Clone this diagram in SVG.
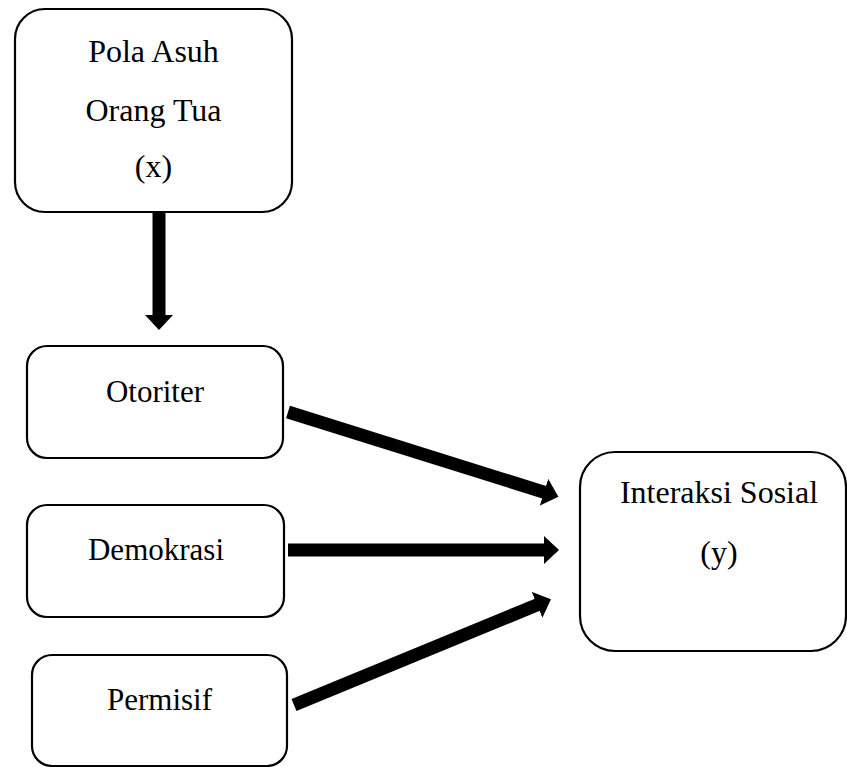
<svg xmlns="http://www.w3.org/2000/svg" width="847" height="767" viewBox="0 0 847 767">
<style>
.box{fill:#fff;stroke:#000;stroke-width:2.2}
.t{font-family:"Liberation Serif","DejaVu Serif",serif;fill:#000;text-anchor:middle}
.big{font-size:32px}
.sm{font-size:31px}
.con{stroke:#000;stroke-width:13;fill:none}
</style>
<defs>
<marker id="ah" markerUnits="userSpaceOnUse" markerWidth="16" markerHeight="28" viewBox="0 0 16 28" refX="1" refY="14" orient="auto">
<path d="M0,0 L15,14 L0,28 Z" fill="#000"/>
</marker>
</defs>
<rect width="847" height="767" fill="#fff"/>
<g id="connectors">
<line class="con" x1="159" y1="212" x2="159" y2="316" marker-end="url(#ah)"/>
<line class="con" x1="288" y1="412" x2="545" y2="492.5" marker-end="url(#ah)"/>
<line class="con" x1="288" y1="550" x2="545" y2="550" marker-end="url(#ah)"/>
<line class="con" x1="294" y1="705" x2="538" y2="604.5" marker-end="url(#ah)"/>
</g>
<g id="pola-asuh">
<rect class="box" x="15" y="9" width="277" height="203" rx="30"/>
<text class="t big" x="153.5" y="62">Pola Asuh</text>
<text class="t big" x="153.5" y="121">Orang Tua</text>
<text class="t big" x="153.5" y="177">(x)</text>
</g>
<g id="otoriter">
<rect class="box" x="27" y="346" width="256" height="112" rx="20"/>
<text class="t sm" x="155" y="402">Otoriter</text>
</g>
<g id="demokrasi">
<rect class="box" x="27" y="505" width="257" height="112" rx="20"/>
<text class="t sm" x="156" y="560">Demokrasi</text>
</g>
<g id="permisif">
<rect class="box" x="32" y="655" width="255" height="111" rx="20"/>
<text class="t sm" x="159.5" y="710">Permisif</text>
</g>
<g id="interaksi-sosial">
<rect class="box" x="580" y="452" width="266" height="199" rx="35"/>
<text class="t big" x="719" y="503">Interaksi Sosial</text>
<text class="t big" x="719" y="563">(y)</text>
</g>
</svg>
